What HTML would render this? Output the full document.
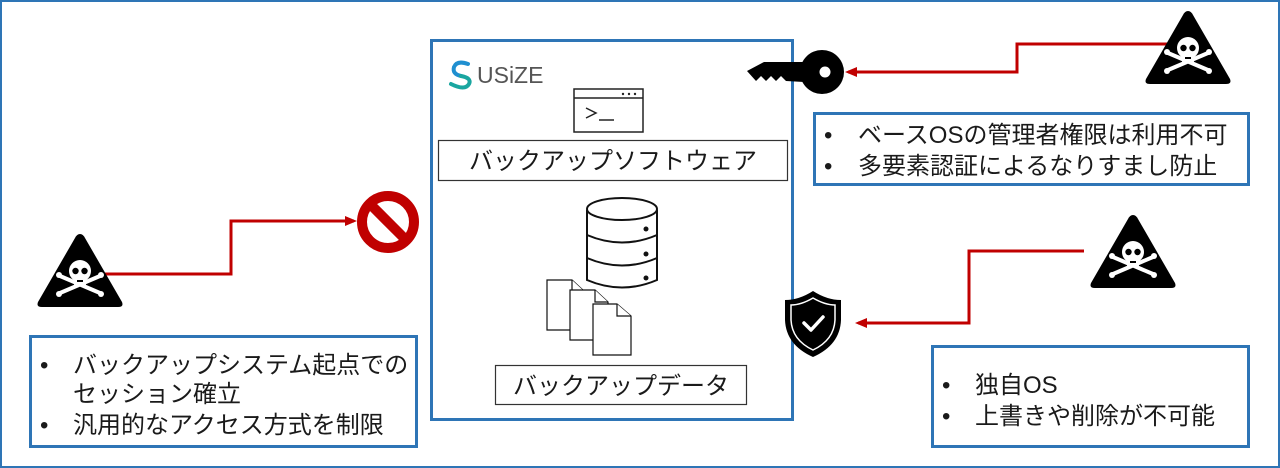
<!DOCTYPE html>
<html><head><meta charset="utf-8"><style>
html,body{margin:0;padding:0;background:#fff}
svg{display:block}
text{font-family:"Liberation Sans","Noto Sans CJK JP",sans-serif;fill:#1a1a1a}
</style></head><body>
<svg width="1280" height="468" viewBox="0 0 1280 468" xmlns="http://www.w3.org/2000/svg">
<defs>
<g id="skull">
 <path d="M0,-37 Q3,-37 5,-33 L42,31 Q44,36 38,36 L-38,36 Q-44,36 -42,31 L-5,-33 Q-3,-37 0,-37Z" fill="#000"/>
 <circle cx="0" cy="0" r="11" fill="#fff"/>
 <rect x="-6" y="5" width="12" height="10" rx="2" fill="#fff"/>
 <circle cx="-4.5" cy="0" r="3.2" fill="#000"/>
 <circle cx="4.5" cy="0" r="3.2" fill="#000"/>
 <path d="M-20,5 L20,22 M20,5 L-20,22" stroke="#fff" stroke-width="4" stroke-linecap="round"/>
 <circle cx="-21" cy="4" r="3" fill="#fff"/><circle cx="21" cy="4" r="3" fill="#fff"/>
 <circle cx="-21" cy="23" r="3" fill="#fff"/><circle cx="21" cy="23" r="3" fill="#fff"/>
 <path d="M-3,10 L3,10" stroke="#000" stroke-width="2"/>
</g>
<marker id="ar" markerWidth="12" markerHeight="12" refX="9" refY="6" orient="auto" markerUnits="userSpaceOnUse">
 <path d="M0,1 L12,6 L0,11 Z" fill="#c00000"/>
</marker>
</defs>

<rect x="1" y="1" width="1278" height="466" fill="none" stroke="#2e75b6" stroke-width="2"/>

<!-- center box -->
<rect x="431.5" y="40.5" width="361" height="379" fill="none" stroke="#2e75b6" stroke-width="3"/>
<g fill="none" stroke-width="4" stroke-linecap="round">
 <path d="M468,64 Q457,60 454,67 Q452,74 461,76" stroke="#1f8fd0"/>
 <path d="M461,76 Q472,78 469,84 Q465,91 451,84" stroke="#1aa6a0"/>
</g>
<text x="477" y="83" font-size="23" style="fill:#555">USiZE</text>
<!-- terminal -->
<rect x="574" y="89" width="69" height="43" fill="#fff" stroke="#222" stroke-width="1.5"/>
<line x1="574" y1="98" x2="643" y2="98" stroke="#222" stroke-width="1.5"/>
<circle cx="623" cy="94" r="1.2" fill="#222"/><circle cx="629" cy="94" r="1.2" fill="#222"/><circle cx="635" cy="94" r="1.2" fill="#222"/>
<path d="M586,108 L596,113 L586,118" fill="none" stroke="#222" stroke-width="1.5"/>
<line x1="599" y1="120" x2="614" y2="120" stroke="#222" stroke-width="1.5"/>
<rect x="438.5" y="140.5" width="349" height="40" fill="#fff" stroke="#333" stroke-width="1.2"/>
<text x="613" y="169" font-size="24" text-anchor="middle">バックアップソフトウェア</text>
<!-- database -->
<g fill="#fff" stroke="#111" stroke-width="2">
 <path d="M587,210 L587,280 Q622,295 657,280 L657,210"/>
 <path d="M587,235 Q622,250 657,235" fill="none"/>
 <path d="M587,258 Q622,273 657,258" fill="none"/>
 <ellipse cx="622" cy="209" rx="35" ry="11"/>
</g>
<circle cx="646" cy="229" r="2.5" fill="#111"/><circle cx="646" cy="254" r="2.5" fill="#111"/><circle cx="646" cy="278" r="2.5" fill="#111"/>
<g fill="#fff" stroke="#111" stroke-width="1.2">
 <path d="M547,280 L572,280 L585,292 L585,330 L547,330 Z"/><path d="M572,280 L572,292 L585,292"/>
 <path d="M570,290 L595,290 L608,302 L608,340 L570,340 Z"/><path d="M595,290 L595,302 L608,302"/>
 <path d="M593,304 L617,304 L631,316 L631,355 L593,355 Z"/><path d="M617,304 L617,316 L631,316"/>
</g>
<rect x="495.5" y="365.5" width="251" height="39" fill="#fff" stroke="#333" stroke-width="1.2"/>
<text x="621" y="394" font-size="24" text-anchor="middle">バックアップデータ</text>

<!-- key -->
<g fill="#000">
 <circle cx="822" cy="72" r="22"/>
 <path d="M804,62 L764,62 L747,71 L756,81 L761,76 L766,81 L771,76 L776,81 L781,76 L786,81 L804,82 Z"/>
</g>
<circle cx="825" cy="72" r="5.5" fill="#fff"/>

<!-- top right -->
<polyline points="1185,44 1017,44 1017,72 848,72" fill="none" stroke="#c00000" stroke-width="3" marker-end="url(#ar)"/>
<use href="#skull" x="1188" y="48"/>
<rect x="814.5" y="113.5" width="434" height="71" fill="#fff" stroke="#2e75b6" stroke-width="3"/>
<text x="824" y="143" font-size="24">•</text><text x="858" y="143" font-size="24">ベースOSの管理者権限は利用不可</text>
<text x="824" y="174" font-size="24">•</text><text x="858" y="174" font-size="24">多要素認証によるなりすまし防止</text>

<!-- left -->
<polyline points="104,274 231,274 231,221 354,221" fill="none" stroke="#c00000" stroke-width="3" marker-end="url(#ar)"/>
<use href="#skull" x="80" y="271"/>
<circle cx="388" cy="222" r="26" fill="none" stroke="#c00000" stroke-width="10"/>
<line x1="371" y1="205" x2="405" y2="239" stroke="#c00000" stroke-width="10"/>
<rect x="30.5" y="336.5" width="386" height="110" fill="#fff" stroke="#2e75b6" stroke-width="3"/>
<text x="40" y="373" font-size="24">•</text><text x="73" y="373" font-size="24">バックアップシステム起点での</text>
<text x="73" y="402" font-size="24">セッション確立</text>
<text x="40" y="433" font-size="24">•</text><text x="73" y="433" font-size="24">汎用的なアクセス方式を制限</text>

<!-- right -->
<polyline points="1084,251 969,251 969,323 858,323" fill="none" stroke="#c00000" stroke-width="3" marker-end="url(#ar)"/>
<use href="#skull" x="1133" y="252"/>
<path d="M813,291 Q827,300 841,300 L841,320 Q840,345 813,357 Q786,345 785,320 L785,300 Q799,300 813,291Z" fill="#000"/>
<path d="M813,298 Q825,305 835,305 L835,320 Q834,340 813,350 Q792,340 791,320 L791,305 Q801,305 813,298Z" fill="none" stroke="#fff" stroke-width="1.5"/>
<path d="M804,323 L811,330 L823,317" fill="none" stroke="#fff" stroke-width="3.5" stroke-linecap="round" stroke-linejoin="round"/>
<rect x="932.5" y="346.5" width="316" height="100" fill="#fff" stroke="#2e75b6" stroke-width="3"/>
<text x="942" y="393" font-size="24">•</text><text x="975" y="393" font-size="24">独自OS</text>
<text x="942" y="424" font-size="24">•</text><text x="975" y="424" font-size="24">上書きや削除が不可能</text>
</svg>
</body></html>
